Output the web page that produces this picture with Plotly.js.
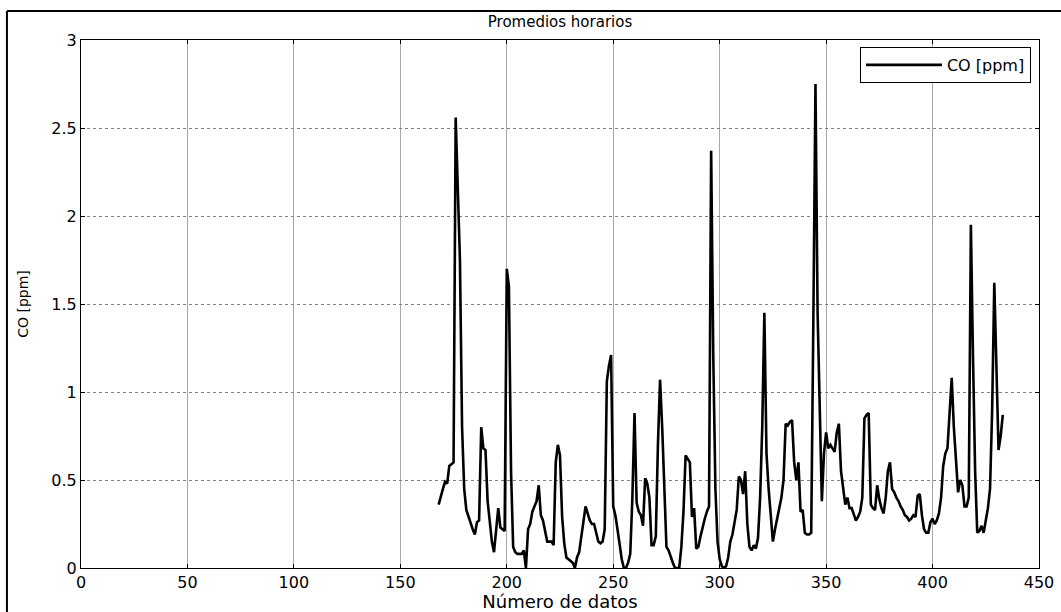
<!DOCTYPE html>
<html>
<head>
<meta charset="utf-8">
<script src="https://cdn.plot.ly/plotly-3.0.1.min.js"></script>
<style>
html,body{margin:0;padding:0;background:#fff;}
#chart{width:1061px;height:612px;}
</style>
</head>
<body>
<div id="chart"></div>
<script>
// x = data index (Número de datos), starts at 168
const startIndex = 168;
const coValues = [
  0.36,0.41,0.45,0.49,0.48,0.58,0.59,0.60,2.56,2.15, // 168-177
  1.75,0.80,0.45,0.33,0.29,0.26,0.22,0.19,0.26,0.27, // 178-187
  0.80,0.68,0.67,0.38,0.25,0.15,0.09,0.20,0.34,0.23, // 188-197
  0.22,0.21,1.70,1.60,0.55,0.12,0.09,0.08,0.08,0.08, // 198-207
  0.10,0.00,0.22,0.25,0.32,0.35,0.38,0.47,0.30,0.27, // 208-217
  0.21,0.15,0.15,0.15,0.13,0.60,0.70,0.64,0.29,0.14, // 218-227
  0.06,0.05,0.04,0.03,0.00,0.06,0.09,0.17,0.27,0.35, // 228-237
  0.31,0.27,0.25,0.25,0.20,0.15,0.14,0.15,0.22,1.06, // 238-247
  1.15,1.21,0.35,0.30,0.22,0.12,0.05,0.00,0.00,0.03, // 248-257
  0.08,0.40,0.88,0.37,0.32,0.30,0.24,0.51,0.48,0.40, // 258-267
  0.13,0.13,0.18,0.70,1.07,0.80,0.40,0.12,0.10,0.06, // 268-277
  0.03,0.00,0.00,0.00,0.12,0.32,0.64,0.62,0.60,0.29, // 278-287
  0.34,0.11,0.12,0.18,0.24,0.28,0.32,0.35,2.37,1.20, // 288-297
  0.45,0.15,0.05,0.01,0.00,0.01,0.06,0.15,0.19,0.25, // 298-307
  0.33,0.52,0.50,0.42,0.55,0.25,0.12,0.10,0.13,0.11, // 308-317
  0.17,0.40,0.80,1.45,0.65,0.45,0.27,0.15,0.22,0.28, // 318-327
  0.33,0.40,0.50,0.82,0.81,0.83,0.84,0.60,0.50,0.60, // 328-337
  0.32,0.33,0.20,0.19,0.19,0.20,1.40,2.75,1.45,0.85, // 338-347
  0.38,0.65,0.77,0.68,0.70,0.68,0.66,0.77,0.82,0.55, // 348-357
  0.44,0.36,0.40,0.34,0.34,0.31,0.27,0.29,0.32,0.40, // 358-367
  0.85,0.87,0.88,0.36,0.34,0.33,0.47,0.39,0.34,0.31, // 368-377
  0.40,0.55,0.60,0.45,0.43,0.40,0.38,0.35,0.33,0.30, // 378-387
  0.29,0.27,0.28,0.30,0.29,0.41,0.42,0.30,0.22,0.20, // 388-397
  0.20,0.26,0.28,0.25,0.27,0.31,0.40,0.58,0.65,0.68, // 398-407
  0.90,1.08,0.80,0.58,0.43,0.50,0.47,0.35,0.35,0.40, // 408-417
  1.95,1.20,0.55,0.20,0.21,0.24,0.20,0.27,0.34,0.45, // 418-427
  0.90,1.62,1.05,0.67,0.75,0.87                       // 428-433
];
const xIndex = coValues.map((v, i) => startIndex + i);

const seriesName = 'CO [ppm]';
const chartTitle = 'Promedios horarios';
const xTitle = 'Número de datos';
const yTitle = 'CO [ppm]';
const xTicks = [0,50,100,150,200,250,300,350,400,450];
const yTicks = [0,0.5,1,1.5,2,2.5,3];

const font = 'DejaVu Sans, sans-serif';

const trace = {
  x: xIndex,
  y: coValues,
  type: 'scatter',
  mode: 'lines',
  name: seriesName,
  line: {color: '#000000', width: 2.6}
};

const layout = {
  width: 1061,
  height: 612,
  margin: {l: 81, r: 22, t: 40, b: 44},
  paper_bgcolor: '#ffffff',
  plot_bgcolor: '#ffffff',
  font: {family: font, size: 16, color: '#000'},
  title: {
    text: chartTitle,
    font: {family: font, size: 15, color: '#000'},
    x: 0.5, xref: 'paper', xanchor: 'center',
    y: 1 - 22/612, yref: 'container', yanchor: 'middle'
  },
  showlegend: true,
  legend: {
    x: 0.9916, xanchor: 'right',
    y: 0.9867, yanchor: 'top',
    bgcolor: '#ffffff',
    bordercolor: '#000000',
    borderwidth: 1,
    font: {family: font, size: 16, color: '#000'},
    itemwidth: 76,
    tracegroupgap: 0
  },
  xaxis: {
    range: [0, 450],
    tickmode: 'array',
    tickvals: xTicks,
    ticktext: xTicks.map(String),
    ticks: 'inside',
    ticklen: 4,
    tickcolor: '#000',
    showline: true,
    linecolor: '#000',
    linewidth: 1,
    mirror: 'ticks',
    showgrid: true,
    gridcolor: '#a8a8a8',
    gridwidth: 1,
    zeroline: false,
    tickfont: {family: font, size: 16, color: '#000'},
    title: {text: xTitle, font: {family: font, size: 18, color: '#000'}, standoff: 3},
    automargin: false
  },
  yaxis: {
    range: [0, 3],
    tickmode: 'array',
    tickvals: yTicks,
    ticktext: yTicks.map(String),
    ticks: 'inside',
    ticklen: 4,
    tickcolor: '#000',
    showline: true,
    linecolor: '#000',
    linewidth: 1,
    mirror: 'ticks',
    showgrid: true,
    gridcolor: '#808080',
    gridwidth: 1,
    griddash: 'dot',
    zeroline: false,
    tickfont: {family: font, size: 16, color: '#000'},
    title: {text: yTitle, font: {family: font, size: 14, color: '#000'}, standoff: 19},
    automargin: false
  },
  shapes: [
    {type: 'line', xref: 'paper', yref: 'paper', x0: -0.0773, x1: -0.0773, y0: -0.2, y1: 1.0549,
     line: {color: '#000', width: 2}},
    {type: 'line', xref: 'paper', yref: 'paper', x0: -0.0773, x1: 1.1, y0: 1.0549, y1: 1.0549,
     line: {color: '#000', width: 2}}
  ]
};

Plotly.newPlot('chart', [trace], layout, {displayModeBar: false, staticPlot: true});
</script>
</body>
</html>
